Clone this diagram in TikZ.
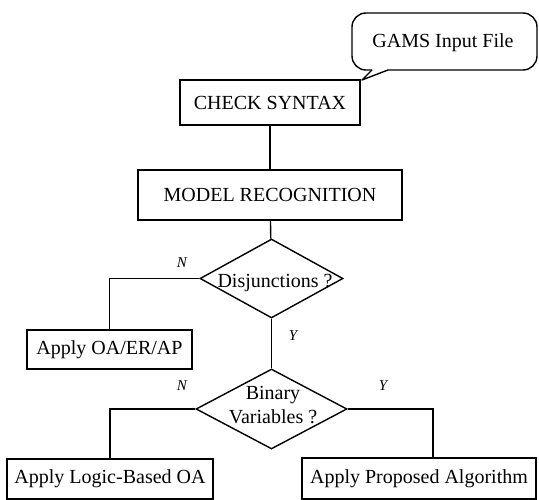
\documentclass[tikz,border=0pt]{standalone}
\usepackage{fontspec}
\setmainfont{Liberation Serif}
\usetikzlibrary{shapes.geometric}
\begin{document}
\begin{tikzpicture}[x=1pt,y=-1pt,line width=1.4pt,
  box/.style={draw,rectangle,inner sep=0pt,font=\fontsize{20}{23}\selectfont},
  dia/.style={draw,diamond,inner sep=0pt},
  dtext/.style={font=\fontsize{20}{24}\selectfont,align=center},
  yn/.style={font=\fontsize{15}{17}\selectfont\itshape}]
\useasboundingbox (0,0) rectangle (539,500);
% callout
\node[font=\fontsize{20}{23}\selectfont] (gams) at (443,43) {GAMS Input File};
\coordinate (tip) at (362,80);
\draw[rounded corners=14pt] (372,70) -- (352,70) -- (352,13) -- (537,13) -- (537,70) -- (388,70);
\draw[line join=round] (372,70) -- (tip) -- (388,70);
% boxes
\node[box,minimum width=180pt,minimum height=45pt] (check) at (270,102.5) {CHECK SYNTAX};
\node[box,minimum width=264pt,minimum height=50pt] (model) at (270,195) {MODEL RECOGNITION};
\node[dia,minimum width=143pt,minimum height=79pt] (disj) at (271.5,278.5) {};
\node[dtext] at (275,283) {Disjunctions ?};
\node[box,minimum width=165pt,minimum height=39pt] (oa) at (109.5,349.5) {Apply OA/ER/AP};
\node[dia,minimum width=151pt,minimum height=80pt] (bin) at (271.5,409) {};
\node[dtext] at (273,405) {Binary\\Variables ?};
\node[box,minimum width=206pt,minimum height=40pt] (logic) at (110,479) {Apply Logic-Based OA};
\node[box,minimum width=234pt,minimum height=41pt] (prop) at (419,478.5) {Apply Proposed Algorithm};
% connectors
\draw (check) -- (model);
\draw (model) -- (disj);
\draw (disj.west) -| (oa.north);
\draw (disj.south) -- (bin.north);
\draw (bin.west) -| (logic.north);
\draw (bin.east) -| ([xshift=14pt]prop.north);
% labels
\node[yn] (n1) at (182,263) {N};
\node[yn] (y1) at (293,336) {Y};
\node[yn] (n2) at (182,386) {N};
\node[yn] (y2) at (383,386) {Y};
\end{tikzpicture}
\end{document}
